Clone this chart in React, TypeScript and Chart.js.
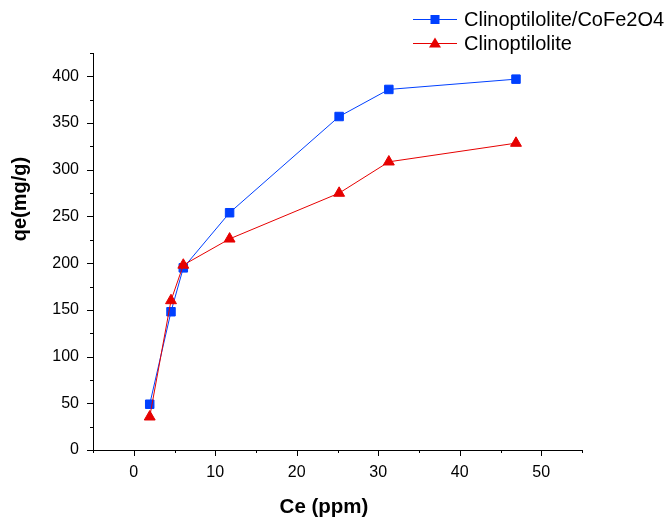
import React, { useEffect, useRef } from 'react';
import { Chart, registerables } from 'chart.js';

Chart.register(...registerables);

// Data
const ceValues = [1.96, 4.57, 6.08, 11.76, 25.2, 31.3, 46.9];
const qeComposite = [49, 148, 195, 254, 357, 386, 397];
const qeClino = [35.5, 160, 198, 226, 275, 308.5, 328.5];
const seriesNames = ['Clinoptilolite/CoFe2O4', 'Clinoptilolite'];
const seriesColors = ['#0040ff', '#e60000'];
const xTitle = 'Ce (ppm)';
const yTitle = 'qe(mg/g)';
const xLabelStep = 10;
const yLabelStep = 50;

const FONT = "'Liberation Sans', Arial, sans-serif";

const tickPlugin = {
  id: 'customTicks',
  afterDraw(chart: any) {
    const ctx = chart.ctx;
    const xs = chart.scales.x;
    const ys = chart.scales.y;
    ctx.save();
    ctx.strokeStyle = '#000';
    ctx.lineWidth = 1;
    ctx.beginPath();
    for (const t of xs.ticks) {
      const px = Math.round(xs.getPixelForValue(t.value)) + 0.5;
      const len = t.value % xLabelStep === 0 ? 6 : 3;
      ctx.moveTo(px, xs.top);
      ctx.lineTo(px, xs.top + len);
    }
    for (const t of ys.ticks) {
      const py = Math.round(ys.getPixelForValue(t.value)) + 0.5;
      const len = t.value % yLabelStep === 0 ? 6 : 3;
      ctx.moveTo(ys.right, py);
      ctx.lineTo(ys.right - len, py);
    }
    ctx.stroke();

    // axis titles
    ctx.fillStyle = '#000';
    ctx.textAlign = 'center';
    ctx.textBaseline = 'middle';
    ctx.font = `bold 20.5px ${FONT}`;
    ctx.fillText(xTitle, 324, 507);
    ctx.save();
    ctx.translate(20, 199);
    ctx.rotate(-Math.PI / 2);
    ctx.font = `bold 20px ${FONT}`;
    ctx.fillText(yTitle, 0, 0);
    ctx.restore();
    ctx.restore();
  },
};

const legendPlugin = {
  id: 'customLegend',
  afterDraw(chart: any) {
    const ctx = chart.ctx;
    const rows = [19.5, 43.5];
    ctx.save();
    chart.data.datasets.forEach((ds: any, i: number) => {
      const y = rows[i];
      ctx.strokeStyle = ds.borderColor;
      ctx.lineWidth = 1;
      ctx.beginPath();
      ctx.moveTo(413, y);
      ctx.lineTo(457, y);
      ctx.stroke();
      ctx.fillStyle = ds.borderColor;
      const cx = 435;
      if (ds.pointStyle === 'rect') {
        ctx.fillRect(cx - 4.5, y - 4.5, 9, 9);
      } else {
        ctx.beginPath();
        ctx.moveTo(cx, y - 6);
        ctx.lineTo(cx + 6, y + 4);
        ctx.lineTo(cx - 6, y + 4);
        ctx.closePath();
        ctx.fill();
      }
      ctx.fillStyle = '#000';
      ctx.font = `20px ${FONT}`;
      ctx.textBaseline = 'middle';
      ctx.textAlign = 'left';
      ctx.fillText(ds.label, 464, y + 1);
    });
    ctx.restore();
  },
};

export default function App() {
  const ref = useRef<HTMLCanvasElement>(null);

  useEffect(() => {
    document.body.style.margin = '0';
    if (!ref.current) return;
    const chart = new Chart(ref.current, {
      type: 'line',
      data: {
        datasets: [
          {
            label: seriesNames[0],
            data: ceValues.map((x, i) => ({ x, y: qeComposite[i] })),
            borderColor: seriesColors[0],
            backgroundColor: seriesColors[0],
            pointBackgroundColor: seriesColors[0],
            pointBorderColor: seriesColors[0],
            borderWidth: 1,
            pointStyle: 'rect',
            pointRadius: 6,
            pointBorderWidth: 1,
            order: 1,
          },
          {
            label: seriesNames[1],
            data: ceValues.map((x, i) => ({ x, y: qeClino[i] })),
            borderColor: seriesColors[1],
            backgroundColor: seriesColors[1],
            pointBackgroundColor: seriesColors[1],
            pointBorderColor: seriesColors[1],
            borderWidth: 1,
            pointStyle: 'triangle',
            pointRadius: 6.3,
            pointBorderWidth: 1,
            order: 0,
          },
        ],
      },
      options: {
        responsive: false,
        animation: false,
        layout: { padding: { top: 53, right: 88, left: 0, bottom: 0 } },
        plugins: {
          legend: { display: false },
          tooltip: { enabled: false },
        },
        scales: {
          x: {
            type: 'linear',
            min: -5,
            max: 55,
            grid: { display: false, drawTicks: false },
            border: { display: true, color: '#000', width: 1 },
            ticks: {
              stepSize: 5,
              autoSkip: false,
              maxRotation: 0,
              padding: 13,
              color: '#000',
              font: { family: FONT, size: 16 },
              callback: (v: any) => (Number(v) % xLabelStep === 0 ? String(v) : ''),
            },
            title: { display: false },
            afterFit: (s: any) => {
              s.height = 67;
            },
          },
          y: {
            type: 'linear',
            min: 0,
            max: 425,
            grid: { display: false, drawTicks: false },
            border: { display: true, color: '#000', width: 1 },
            ticks: {
              stepSize: 25,
              autoSkip: false,
              padding: 14,
              color: '#000',
              font: { family: FONT, size: 16 },
              callback: (v: any) => (Number(v) % yLabelStep === 0 ? String(v) : ''),
            },
            title: { display: false },
            afterFit: (s: any) => {
              s.width = 93;
            },
          },
        },
      },
      plugins: [tickPlugin, legendPlugin],
    });
    return () => chart.destroy();
  }, []);

  return (
    <div style={{ width: 670, height: 517 }}>
      <canvas ref={ref} width={670} height={517} />
    </div>
  );
}
